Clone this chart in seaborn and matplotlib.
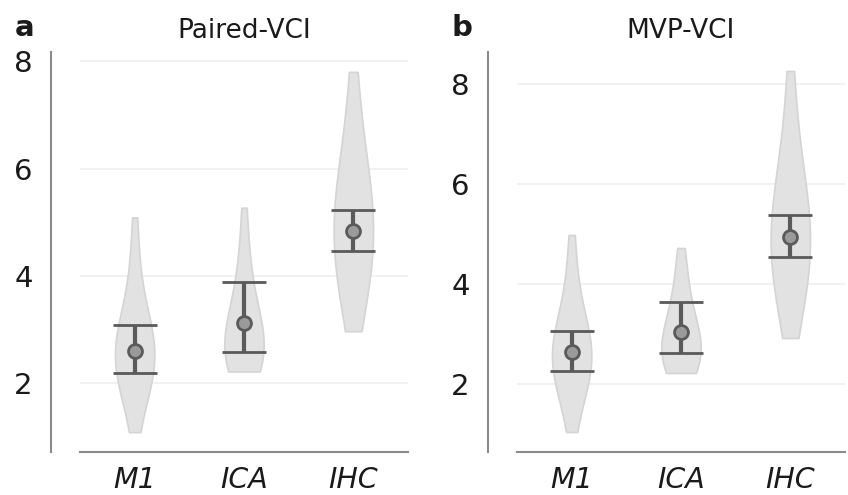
import numpy as np
import pandas as pd
import seaborn as sns
import matplotlib
matplotlib.use("Agg")
import matplotlib.pyplot as plt

categories = ["M1", "ICA", "IHC"]

# Paired-VCI sample values (hand estimated to reproduce violin shapes)
paired_m1 = [1.09, 1.55, 1.8, 1.95, 2.05, 2.15, 2.25, 2.35, 2.42, 2.5, 2.55, 2.62, 2.7,
             2.8, 2.9, 3.0, 3.12, 3.3, 3.55, 3.9, 4.4, 5.09]
paired_ica = [2.22, 2.24, 2.28, 2.34, 2.4, 2.47, 2.55, 2.63, 2.72, 2.8, 2.9, 3.0, 3.12,
              3.25, 3.4, 3.6, 3.85, 4.15, 4.6, 5.27]
paired_ihc = [2.97, 3.3, 3.6, 3.8, 4.0, 4.15, 4.3, 4.45, 4.6, 4.75, 4.9, 5.05, 5.2, 5.35,
              5.5, 5.65, 5.85, 6.05, 6.3, 6.7, 7.2, 7.8]

# MVP-VCI sample values
mvp_m1 = [1.04, 1.5, 1.78, 1.95, 2.08, 2.2, 2.3, 2.4, 2.48, 2.55, 2.62, 2.7, 2.8, 2.9,
          3.0, 3.12, 3.3, 3.55, 3.9, 4.4, 4.98]
mvp_ica = [2.22, 2.25, 2.3, 2.36, 2.43, 2.5, 2.58, 2.66, 2.74, 2.82, 2.9, 3.0, 3.1, 3.22,
           3.36, 3.52, 3.75, 4.0, 4.35, 4.72]
mvp_ihc = [2.92, 3.3, 3.6, 3.85, 4.05, 4.2, 4.35, 4.5, 4.65, 4.8, 4.95, 5.1, 5.25, 5.4,
           5.55, 5.75, 5.95, 6.2, 6.5, 6.9, 7.5, 8.26]

# point estimates and interval bounds
paired_mean = [2.60, 3.13, 4.83]
paired_lo = [2.20, 2.58, 4.47]
paired_hi = [3.08, 3.88, 5.22]
mvp_mean = [2.64, 3.04, 4.94]
mvp_lo = [2.26, 2.62, 4.54]
mvp_hi = [3.06, 3.64, 5.38]

titles = ["Paired-VCI", "MVP-VCI"]
panel_labels = ["a", "b"]
yticks = [2, 4, 6, 8]
ylims = [(0.72, 8.17), (0.64, 8.64)]

sns.set_style("white")
plt.rcParams["font.family"] = ["DejaVu Sans"]

fig = plt.figure(figsize=(8.48, 4.95), dpi=100)
axes = [fig.add_axes([80 / 848, 43 / 495, 328 / 848, 400 / 495]),
        fig.add_axes([517 / 848, 43 / 495, 328 / 848, 400 / 495])]

panels = [
    ([paired_m1, paired_ica, paired_ihc], paired_mean, paired_lo, paired_hi),
    ([mvp_m1, mvp_ica, mvp_ihc], mvp_mean, mvp_lo, mvp_hi),
]

for i, (ax, (samples, mean, lo, hi)) in enumerate(zip(axes, panels)):
    df = pd.DataFrame({
        "group": np.concatenate([[c] * len(s) for c, s in zip(categories, samples)]),
        "value": np.concatenate(samples),
    })
    sns.violinplot(data=df, x="group", y="value", order=categories, cut=0, inner=None,
                   color="#e2e2e2", saturation=1, linecolor="#d4d4d4", linewidth=1.2,
                   width=0.36, density_norm="width", bw_adjust=1.3, ax=ax, zorder=2)
    mean = np.array(mean)
    lo = np.array(lo)
    hi = np.array(hi)
    xs = np.arange(len(categories))
    ax.errorbar(xs, mean, yerr=[mean - lo, hi - mean], fmt="o", color="#5a5a5a",
                ecolor="#5a5a5a", elinewidth=3, capsize=16, capthick=2.6,
                markersize=10, markerfacecolor="#9a9a9a", markeredgecolor="#5a5a5a",
                markeredgewidth=2, zorder=5)
    ax.set_xlim(-0.5, 2.5)
    ax.set_ylim(*ylims[i])
    ax.set_yticks(yticks)
    ax.set_yticklabels([str(t) for t in yticks])
    ax.yaxis.grid(True, color="#efefef", lw=1.2, zorder=0)
    ax.xaxis.grid(False)
    ax.set_axisbelow(True)
    ax.set_xlabel("")
    ax.set_ylabel("")
    for s in ["top", "right"]:
        ax.spines[s].set_visible(False)
    ax.spines["left"].set_position(("outward", 21))
    for s in ["left", "bottom"]:
        ax.spines[s].set_color("#8a8a8a")
        ax.spines[s].set_linewidth(1.5)
    ax.tick_params(axis="y", length=0, pad=13, labelsize=21, labelcolor="#1a1a1a")
    ax.tick_params(axis="x", length=0, pad=10, labelsize=20.5, labelcolor="#1a1a1a")
    for lab in ax.get_xticklabels():
        lab.set_fontstyle("italic")
    ax.set_title(titles[i], fontsize=19, pad=10, color="#1a1a1a")
    ax.text(-0.2, 1.06, panel_labels[i], transform=ax.transAxes, fontsize=21,
            fontweight="bold", ha="left", va="center", color="#1a1a1a")

fig.savefig("out.png", dpi=100)
